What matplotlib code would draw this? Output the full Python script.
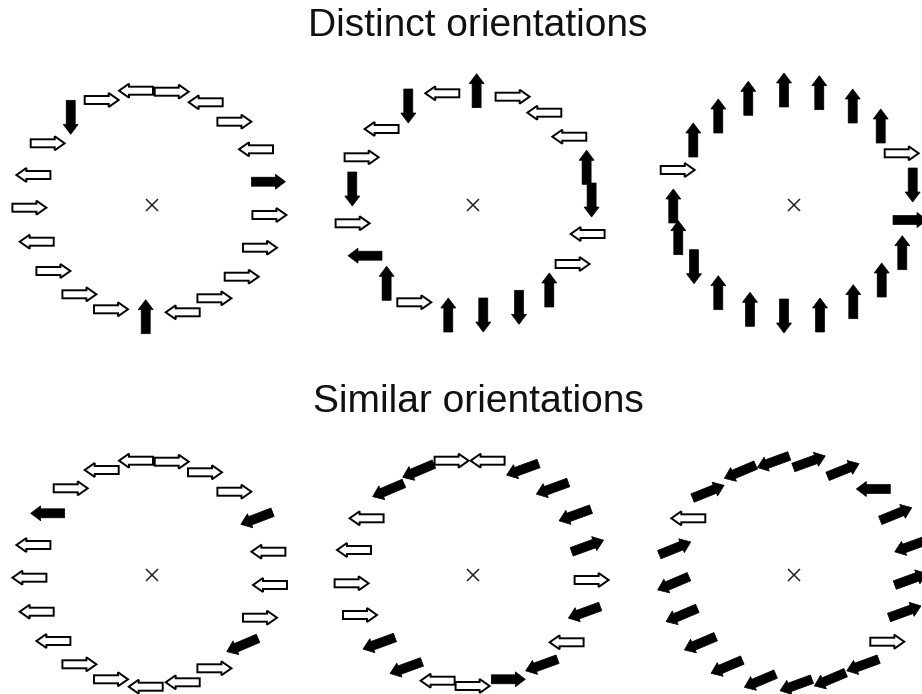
"""
Arrow-ring stimuli: distinct vs similar orientations.
Each ring: 21 arrows around a fixation cross; arrows given as offset
from ring centre (px, y up), pointing angle (deg) and filled flag.
"""
import numpy as np
import matplotlib
matplotlib.use('Agg')
import matplotlib.pyplot as plt
from matplotlib.patches import FancyArrow

# ── Data ─────────────────────────────────────────────────────────────────────
TITLES = ["Distinct orientations", "Similar orientations"]

# ring 1 (distinct, left)
r1_x = [-50, -15.7, 20, 54, 82.7, 104.3, 116.7, 117.7, 108.3, 90, 62.7,
        31, -6, -40.7, -72.3, -98.3, -115, -122.3, -118.3, -104, -81]
r1_y = [105, 114.3, 113.3, 102.7, 83.3, 55.7, 23.3, -10, -42.7, -71.7, -93.3,
        -107.3, -111.7, -104.3, -89.3, -66, -36.7, -2.7, 30, 61.7, 87.7]
r1_ang = [0, 180, 0, 180, 0, 180, 0, 0, 0, 0, 0,
          180, 90, 0, 0, 0, 180, 0, 180, 0, 270]
r1_fill = [0, 0, 0, 0, 0, 0, 1, 0, 0, 0, 0,
           0, 1, 0, 0, 0, 0, 0, 0, 0, 1]

# ring 2 (distinct, middle)
r2_x = [3.3, 39.3, 71, 96, 113.3, 118.3, 114.3, 99.3, 76, 45.7, 10,
        -25, -59, -86.7, -108.3, -120.7, -121, -111.7, -91.7, -65, -31]
r2_y = [114.3, 108.3, 92.3, 68.3, 37.7, 5, -29, -59, -85, -102.3, -110,
        -110, -97.3, -78.3, -50.7, -18.3, 16, 47.7, 76, 99, 111.7]
r2_ang = [90, 0, 180, 180, 90, 270, 180, 0, 90, 270, 270,
          90, 0, 90, 180, 0, 270, 0, 180, 270, 180]
r2_fill = [1, 0, 0, 0, 1, 1, 0, 0, 1, 1, 1,
           1, 0, 1, 1, 0, 1, 0, 0, 1, 0]

# ring 3 (distinct, right)
r3_x = [-10, 25.3, 58.7, 86.7, 107.7, 118.7, 116, 108.3, 87.7, 59.3, 26,
        -10, -44, -75.7, -100, -115.7, -120.7, -116.3, -100.7, -75.7, -45.7]
r3_y = [115, 112.3, 99, 79, 51.7, 20, -15, -47.7, -75, -96.7, -110,
        -111, -104.3, -87.7, -61.7, -32.7, -1, 35, 65, 89, 106.7]
r3_ang = [90, 90, 90, 90, 0, 270, 0, 90, 90, 90, 90,
          270, 90, 90, 270, 90, 90, 0, 90, 90, 90]
r3_fill = [1, 1, 1, 1, 0, 1, 1, 1, 1, 1, 1,
           1, 1, 1, 1, 1, 1, 0, 1, 1, 1]

# ring 4 (similar, left) - same slots as ring 1
r4_x = [-15.7, 20, 53.3, 82.7, 105, 116.7, 118.3, 108.3, 90.7, 62.7, 31,
        -6, -40.7, -72.3, -98.3, -115, -122.3, -118.3, -104, -81, -50]
r4_y = [114.3, 113.3, 102.7, 83.3, 56.7, 23.3, -10, -42.7, -70, -93.3, -107.3,
        -111.7, -104.3, -89.3, -66, -36.7, -2.7, 30, 61.7, 86.7, 105]
r4_ang = [180, 0, 0, 0, 201, 180, 180, 0, 203, 0, 180,
          180, 0, 0, 180, 180, 180, 180, 180, 0, 180]
r4_fill = [0, 0, 0, 0, 1, 0, 0, 0, 1, 0, 0,
           0, 0, 0, 0, 0, 0, 0, 1, 0, 0]

# ring 5 (similar, middle)
r5_x = [-21.7, 14.3, 49.3, 79, 101.7, 114.3, 118.3, 111, 93.3, 68.3, 35,
        -0.7, -35.7, -67.3, -94.3, -113.3, -121.7, -119.3, -106.7, -85, -55]
r5_y = [114.3, 114.3, 105.7, 86.7, 60, 29, -5, -37.3, -67.3, -90, -104.3,
        -111, -105.7, -92.7, -68.3, -40, -8.3, 25, 56.7, 85, 104.3]
r5_ang = [0, 180, 200, 200, 200, 20, 0, 200, 180, 200, 0,
          0, 180, 200, 200, 0, 0, 180, 180, 203, 203]
r5_fill = [0, 0, 1, 1, 1, 1, 0, 1, 0, 1, 1,
           0, 0, 1, 1, 0, 0, 0, 0, 1, 1]

# ring 6 (similar, right)
r6_x = [-85.7, -54, -20.7, 15.3, 49.3, 79.3, 102, 116.7, 116.7, 111, 93.3,
        68.7, 36, 2, -34, -67.3, -94, -112.3, -120.7, -119, -105.7]
r6_y = [83.3, 103.3, 113.3, 113.3, 105, 86, 61, 29, -4.3, -36.7, -66.7,
        -90, -104.3, -110, -105.7, -91.7, -68.3, -40, -8.3, 26.7, 56.7]
r6_ang = [22, 203, 200, 20, 22, 180, 22, 200, 20, 20, 0,
          200, 203, 200, 203, 203, 203, 203, 203, 22, 180]
r6_fill = [1, 1, 1, 1, 1, 1, 1, 1, 1, 1, 0,
           1, 1, 1, 1, 1, 1, 1, 1, 1, 0]

RINGS = [(r1_x, r1_y, r1_ang, r1_fill), (r2_x, r2_y, r2_ang, r2_fill),
         (r3_x, r3_y, r3_ang, r3_fill), (r4_x, r4_y, r4_ang, r4_fill),
         (r5_x, r5_y, r5_ang, r5_fill), (r6_x, r6_y, r6_ang, r6_fill)]

# ── Layout (pixel coordinates, y down) ───────────────────────────────────────
W, H = 922, 694
CENTERS = [(151.7, 205), (473.3, 205), (794, 205),
           (151.7, 575), (473.3, 575), (794, 575)]
ARROW_LEN = 34
BODY_W = 9
HEAD_W = 15
HEAD_L = 10

fig = plt.figure(figsize=(W / 100, H / 100), dpi=100)
ax = fig.add_axes([0, 0, 1, 1])
ax.set_xlim(0, W)
ax.set_ylim(H, 0)
ax.set_aspect('equal')
ax.axis('off')

for (cx, cy), (xs, ys, angs, fills) in zip(CENTERS, RINGS):
    for x, y, a, f in zip(xs, ys, angs, fills):
        ux = np.cos(np.radians(a))
        uy = -np.sin(np.radians(a))   # screen y points down
        px = cx + x - ux * ARROW_LEN / 2
        py = cy - y - uy * ARROW_LEN / 2
        arr = FancyArrow(px, py, ux * ARROW_LEN, uy * ARROW_LEN,
                         width=BODY_W if f else BODY_W - 1,
                         head_width=HEAD_W if f else HEAD_W - 1,
                         head_length=HEAD_L, length_includes_head=True,
                         facecolor='black' if f else 'white',
                         edgecolor='black', linewidth=1.4 if not f else 0.5,
                         joinstyle='miter')
        ax.add_patch(arr)
    # fixation cross
    ax.plot(cx, cy, marker='x', markersize=8, color='#222222', mew=1.1)

ax.text(478, 36, TITLES[0], fontsize=28, family='Liberation Sans',
        ha='center', va='baseline', color='#111111')
ax.text(478, 412, TITLES[1], fontsize=28, family='Liberation Sans',
        ha='center', va='baseline', color='#111111')

plt.savefig('out.png', dpi=100)
plt.close()
